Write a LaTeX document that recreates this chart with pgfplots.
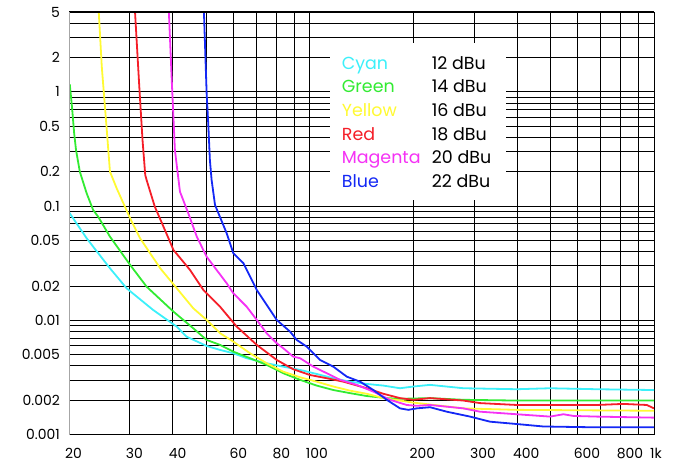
\documentclass[border=0pt]{standalone}
\usepackage{fontspec}
\setmainfont{Poppins}
\usepackage{pgfplots}
\pgfplotsset{compat=1.18}

\definecolor{ccyan}{RGB}{60,240,250}
\definecolor{cgreen}{RGB}{50,235,50}
\definecolor{cyellow}{RGB}{255,250,50}
\definecolor{cred}{RGB}{245,30,40}
\definecolor{cmag}{RGB}{245,50,245}
\definecolor{cblue}{RGB}{20,40,245}

\begin{document}
\begin{tikzpicture}[x=1bp,y=1bp]
\begin{axis}[name=ax, at={(0,0)}, anchor=south west,
  scale only axis, width=585bp, height=422.7bp,
  xmode=log, ymode=log,
  xmin=20, xmax=1000, ymin=0.001, ymax=5,
  xtick={20,30,40,60,80,100,200,300,400,600,800,1000},
  xticklabels={20,30,40,60,80,100,200,300,400,600,800,1k},
  minor xtick={50,70,90,500,700,900},
  ytick={0.001,0.002,0.005,0.01,0.02,0.05,0.1,0.2,0.5,1,2,5},
  yticklabels={0.001,0.002,0.005,0.01,0.02,0.05,0.1,0.2,0.5,1,2,5},
  minor ytick={0.003,0.004,0.006,0.007,0.008,0.009,0.03,0.04,0.06,0.07,0.08,0.09,0.3,0.4,0.6,0.7,0.8,0.9,3,4},
  grid=both,
  major grid style={black, line width=0.8bp},
  minor grid style={black, line width=0.8bp},
  major tick length=0pt, minor tick length=0pt,
  axis line style={black, line width=0.8bp},
  tick label style={font=\fontsize{14}{16}\selectfont},
  xticklabel style={anchor=north west, inner sep=0pt, xshift=-4bp, yshift=-13bp},
  yticklabel style={anchor=east, inner sep=0pt, xshift=-9bp},
  every axis plot/.append style={line width=1.8bp, no markers},
]
% 12 dBu
\addplot[ccyan] coordinates {
  (20,0.0885) (22.5,0.0524) (23.5,0.0442) (26.3,0.0286) (29.4,0.0191)
  (35.1,0.01235) (41.1,0.00882) (43.9,0.00721) (50.2,0.00598) (54.9,0.00552)
  (60,0.00516) (65.6,0.00467) (75,0.00422) (83.8,0.00394) (93.8,0.00369)
  (104.8,0.0034) (117.1,0.00312) (131,0.00291) (146.5,0.00278) (163.7,0.00269)
  (183,0.00255) (200,0.00264) (223.6,0.00273) (279.5,0.00255) (399.4,0.0025)
  (498.9,0.00255) (682,0.0025) (1000,0.00246)};
% 14 dBu
\addplot[cgreen] coordinates {
  (20.1,1.166) (20.4,0.742) (20.7,0.434) (20.96,0.3101) (21.5,0.2003)
  (22.5,0.1297) (23.5,0.0926) (24.3,0.0809) (26.3,0.0541) (30.1,0.0306)
  (33.6,0.01975) (40.2,0.01194) (45.9,0.00854) (50.2,0.00675) (54.9,0.00611)
  (60,0.00533) (67.1,0.00467) (75,0.00408) (83.8,0.00345) (93.8,0.00302)
  (104.8,0.00269) (117.1,0.00246) (131,0.00231) (146.5,0.00218) (167.4,0.00209)
  (183,0.00206) (223.6,0.00209) (279.5,0.00202) (399.4,0.00199) (1000,0.00199)};
% 16 dBu
\addplot[cyellow] coordinates {
  (24.4,5) (24.9,1.661) (25.7,0.496) (26.3,0.2003) (26.9,0.1695)
  (27.5,0.1434) (30.1,0.0783) (32.15,0.0524) (32.9,0.0474) (36.8,0.0286)
  (41.1,0.01913) (45.9,0.01278) (50.2,0.0101) (54.9,0.00773) (60,0.00653)
  (67.1,0.00516) (75,0.00422) (83.8,0.00356) (93.8,0.00318) (104.8,0.00291)
  (117.1,0.00264) (131,0.00243) (146.5,0.00228) (163.7,0.00209) (183,0.00199)
  (200,0.00191) (279.5,0.0017) (399.4,0.00165) (1000,0.00162)};
% 18 dBu
\addplot[cred] coordinates {
  (31.1,5) (32.0,1.11) (32.7,0.3794) (33.3,0.1874) (33.6,0.1695)
  (35.5,0.099) (38.9,0.0524) (40.2,0.0414) (44.9,0.0277) (49.1,0.01849)
  (54.9,0.0132) (61.4,0.00882) (70.2,0.00611) (80.2,0.00451) (89.6,0.00374)
  (100.2,0.00333) (112.1,0.00312) (125.3,0.00291) (146.5,0.00255) (163.7,0.00228)
  (183,0.00209) (200,0.00202) (223.6,0.00209) (279.5,0.00199) (312.4,0.00189)
  (399.4,0.00182) (682,0.00182) (814.6,0.00186) (952.8,0.00182) (1000,0.0017)};
% 20 dBu
\addplot[cmag] coordinates {
  (39,5) (39.8,1.189) (40.6,0.3101) (42,0.1339) (44.4,0.0867)
  (47,0.0541) (50.2,0.0361) (57.4,0.02116) (60,0.01729) (65.6,0.0132)
  (70.2,0.0101) (75,0.00773) (80.2,0.00632) (83.8,0.00571) (89.6,0.00482)
  (93.8,0.00467) (102.5,0.00394) (112.1,0.00345) (122.5,0.00302) (137,0.00273)
  (153.1,0.00238) (171.1,0.00202) (191.4,0.00182) (204.6,0.00179) (223.6,0.00182)
  (279.5,0.0017) (312.4,0.00159) (399.4,0.00151) (498.9,0.00144) (545.6,0.00151)
  (583.3,0.00146) (682,0.00144) (1000,0.00141)};
% 22 dBu
\addplot[cblue] coordinates {
  (49.3,5) (50.2,0.972) (50.8,0.496) (51.3,0.2536) (51.9,0.1695)
  (53.1,0.1024) (57.4,0.0579) (60,0.0387) (64.2,0.0317) (70.2,0.01849)
  (80.2,0.0101) (87.7,0.00798) (91.7,0.00675) (98,0.0059) (107.2,0.00451)
  (117.1,0.00394) (128.2,0.00322) (140.1,0.00291) (153.1,0.00246) (167.4,0.00202)
  (183,0.0017) (193.4,0.00165) (204.6,0.0017) (223.6,0.00174) (250,0.00159)
  (292.3,0.00144) (334.1,0.0013) (399.4,0.00124) (477.1,0.00118) (682,0.00116)
  (1000,0.00116)};
\draw[black, line width=1.6bp] (rel axis cs:0,1) -- (rel axis cs:1,1);
\draw[gray!70, line width=1.2bp] (rel axis cs:0,0) -- (rel axis cs:0,1);
\end{axis}
\begin{scope}[shift={(ax.south west)}, x=1bp, y=1bp,
  every node/.style={anchor=base west, inner sep=0pt, font=\fontsize{17.5}{20}\selectfont}]
  \fill[white] (261,234.7) rectangle (437,391.7);
  \node[text=ccyan]   at (272.7,365.4) {Cyan};
  \node[text=cgreen]  at (272.7,341.8) {Green};
  \node[text=cyellow] at (272.7,318.2) {Yellow};
  \node[text=cred]    at (272.7,294.6) {Red};
  \node[text=cmag]    at (272.7,271.0) {Magenta};
  \node[text=cblue]   at (272.7,247.4) {Blue};
  \node at (362.7,365.4) {12 dBu};
  \node at (362.7,341.8) {14 dBu};
  \node at (362.7,318.2) {16 dBu};
  \node at (362.7,294.6) {18 dBu};
  \node at (362.7,271.0) {20 dBu};
  \node at (362.7,247.4) {22 dBu};
  \pgfresetboundingbox
  \path[use as bounding box] (-69,-29.3) rectangle (609,434.7);
\end{scope}
\end{tikzpicture}
\end{document}
